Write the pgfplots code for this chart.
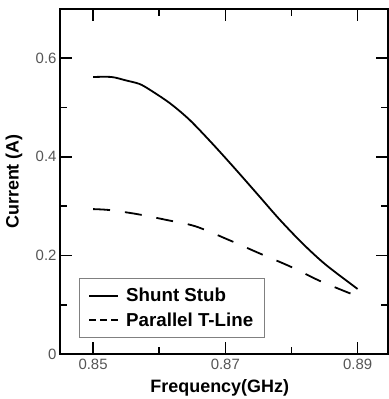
\documentclass[border=0pt]{standalone}
\usepackage{fontspec}
\setmainfont{Liberation Sans}
\usepackage{pgfplots}
\pgfplotsset{compat=1.18}
\definecolor{tickgray}{RGB}{85,85,85}
\begin{document}
\begin{tikzpicture}
\begin{axis}[
  scale only axis,
  width=328bp, height=345bp,
  xmin=0.845, xmax=0.8946,
  ymin=0, ymax=0.7,
  xtick={0.85,0.87,0.89},
  xticklabels={0.85,0.87,0.89},
  minor xtick={0.86,0.88},
  ytick={0,0.2,0.4,0.6},
  yticklabels={0,0.2,0.4,0.6},
  minor ytick={0.1,0.3,0.5},
  tick align=inside,
  major tick length=12bp,
  minor tick length=7bp,
  tick style={line width=1.6bp, black},
  axis line style={line width=2.6bp},
  tick label style={font=\fontsize{15}{18}\selectfont, text=tickgray},
  xticklabel style={yshift=-2bp},
  label style={font=\fontsize{18}{21}\selectfont\bfseries},
  xlabel={Frequency(GHz)},
  ylabel={Current (A)},
  xlabel style={at={(axis description cs:0.487,-0.098)}, anchor=center},
  ylabel style={at={(axis description cs:-0.14,0.5)}, anchor=center, rotate=0},
  legend style={at={(axis description cs:0.058,0.046)}, anchor=south west,
    draw=gray, line width=1.2bp, font=\fontsize{18.8}{21}\selectfont\bfseries,
    inner xsep=9bp, inner ysep=8bp, row sep=5bp,
    nodes={inner sep=2bp}},
  legend cell align=left,
  clip=false,
]
\addplot[black, line width=1.8bp, smooth,
  legend image code/.code={\draw[line width=1.6bp, solid] (0bp,0bp) -- (29bp,0bp);}] coordinates {
(0.85,0.562) (0.8528,0.562) (0.855,0.555) (0.857,0.548) (0.8586,0.536)
(0.8616,0.509) (0.8646,0.475) (0.8681,0.426) (0.8716,0.374) (0.8752,0.319)
(0.8782,0.273) (0.8817,0.224) (0.8852,0.181) (0.89,0.132)
};
\addlegendentry{\hspace{5bp}Shunt Stub}
\addplot[black, line width=1.8bp, smooth, dash pattern=on 17bp off 15bp,
  legend image code/.code={\draw[line width=1.6bp, dash pattern=on 6.5bp off 4.5bp] (0bp,0bp) -- (29bp,0bp);}] coordinates {
(0.85,0.294) (0.8525,0.292) (0.8566,0.284) (0.8611,0.272) (0.8655,0.259)
(0.8706,0.231) (0.8752,0.204) (0.8799,0.177) (0.8845,0.147) (0.89,0.117)
};
\addlegendentry{\hspace{5bp}Parallel T-Line}
\end{axis}
\pgfresetboundingbox
\useasboundingbox (-60bp,-45bp) rectangle (329bp,354bp);
\end{tikzpicture}
\end{document}
